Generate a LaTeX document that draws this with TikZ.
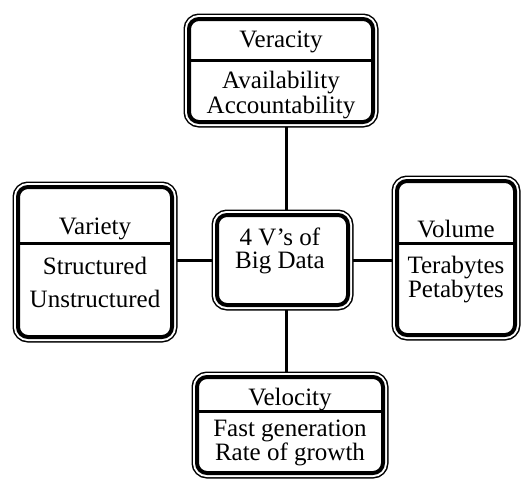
\documentclass[tikz,border=0pt]{standalone}
\usepackage{fontspec}
\setmainfont{Liberation Serif}
\usetikzlibrary{backgrounds}

\begin{document}
\begin{tikzpicture}[x=1pt, y=-1pt,
  vbox/.style={draw, line width=4pt, fill=white, rounded corners=10pt,
    inner sep=0pt,
    preaction={draw, line width=11pt},
    preaction={draw=white, line width=8pt}},
  divider/.style={line width=3pt},
  link/.style={line width=3pt},
  title/.style={anchor=base, font=\fontsize{25}{25}\selectfont},
  body/.style={anchor=base, align=center, font=\fontsize{25}{#1}\selectfont}]
  \useasboundingbox (0,0) rectangle (522,480);

  % the four V's round the core
  \node[vbox, minimum width=131pt, minimum height=90pt] (core) at (282.5,260) {};
  \node[vbox, minimum width=184pt, minimum height=103pt] (veracity) at (281,70.5) {};
  \node[vbox, minimum width=154pt, minimum height=150pt] (variety) at (95,262) {};
  \node[vbox, minimum width=118pt, minimum height=154pt] (volume) at (456,258) {};
  \node[vbox, minimum width=186pt, minimum height=96pt] (velocity) at (290,425) {};

  \draw[divider] ([yshift=-43pt]veracity.north west) -- ([yshift=-43pt]veracity.north east);
  \draw[divider] ([yshift=-58pt]variety.north west) -- ([yshift=-58pt]variety.north east);
  \draw[divider] ([yshift=-64pt]volume.north west) -- ([yshift=-64pt]volume.north east);
  \draw[divider] ([yshift=-36pt]velocity.north west) -- ([yshift=-36pt]velocity.north east);

  % body nodes sit on the baseline of their last line
  \node[body=23] (core-text) at (280,268) {4 V’s of\\Big Data};

  \node[title] (veracity-title) at (281,47) {Veracity};
  \node[body=25] (veracity-body) at (281,113) {Availability\\Accountability};

  \node[title] (variety-title) at (95,234) {Variety};
  \node[body=33] (variety-body) at (95,307) {Structured\\Unstructured};

  \node[title] (volume-title) at (456,237) {Volume};
  \node[body=24] (volume-body) at (456,297) {Terabytes\\Petabytes};

  \node[title] (velocity-title) at (290,405) {Velocity};
  \node[body=24] (velocity-body) at (290,460) {Fast generation\\Rate of growth};

  \begin{scope}[on background layer]
    \draw[link] ([xshift=4pt]core.north) -- ([xshift=4pt]core.north |- veracity.south);
    \draw[link] ([xshift=4pt]core.south) -- ([xshift=4pt]core.south |- velocity.north);
    \draw[link] (core.west) -- (core.west -| variety.east);
    \draw[link] (core.east) -- (core.east -| volume.west);
  \end{scope}
\end{tikzpicture}
\end{document}
